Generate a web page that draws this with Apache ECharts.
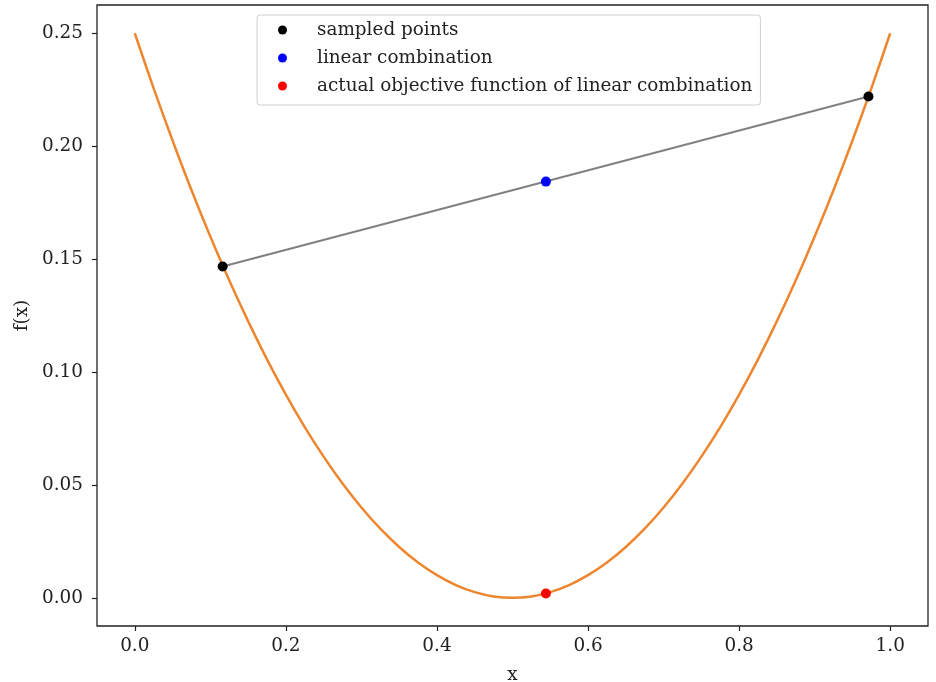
<!DOCTYPE html>
<html>
<head>
<meta charset="utf-8">
<script src="https://cdn.jsdelivr.net/npm/echarts@6/dist/echarts.min.js"></script>
<style>html,body{margin:0;padding:0;background:#fff}#c{width:936px;height:682px}</style>
</head>
<body>
<div id="c"></div>
<script>
const curveX = [0, 0.025, 0.05, 0.075, 0.1, 0.125, 0.15, 0.175, 0.2, 0.225, 0.25, 0.275, 0.3, 0.325, 0.35, 0.375, 0.4, 0.425, 0.45, 0.475, 0.5,
  0.525, 0.55, 0.575, 0.6, 0.625, 0.65, 0.675, 0.7, 0.725, 0.75, 0.775, 0.8, 0.825, 0.85, 0.875, 0.9, 0.925, 0.95, 0.975, 1.0];
const curveY = [0.25, 0.2256, 0.2025, 0.1806, 0.16, 0.1406, 0.1225, 0.1056, 0.09, 0.0756, 0.0625, 0.0506, 0.04, 0.0306, 0.0225, 0.0156, 0.01, 0.0056, 0.0025, 0.0006, 0,
  0.0006, 0.0025, 0.0056, 0.01, 0.0156, 0.0225, 0.0306, 0.04, 0.0506, 0.0625, 0.0756, 0.09, 0.1056, 0.1225, 0.1406, 0.16, 0.1806, 0.2025, 0.2256, 0.25];
const sampledX = [0.1163, 0.9712];
const sampledY = [0.1467, 0.2220];
const linCombX = [0.5442];
const linCombY = [0.1843];
const actualX = [0.5442];
const actualY = [0.0019];
const xTicks = [0, 0.2, 0.4, 0.6, 0.8, 1.0];
const yTicks = [0, 0.05, 0.1, 0.15, 0.2, 0.25];
const seriesNames = ['sampled points', 'linear combination', 'actual objective function of linear combination'];

const zip = (a, b) => a.map((v, i) => [v, b[i]]);
const font = 'DejaVu Serif';
const fs = 18.4;
const chart = echarts.init(document.getElementById('c'), null, {renderer: 'canvas'});
chart.setOption({
  animation: false,
  backgroundColor: '#fff',
  grid: {left: 97, right: 8, top: 5, bottom: 56, outerBoundsMode: 'none', containLabel: false,
    show: true, borderColor: '#222', borderWidth: 1.3, backgroundColor: 'transparent'},
  legend: {
    orient: 'vertical', left: 257, top: 15,
    padding: [5, 8, 9, 21],
    itemWidth: 9, itemHeight: 9, itemGap: 8,
    backgroundColor: '#fff', borderColor: '#d0d0d0', borderWidth: 1, borderRadius: 3,
    data: seriesNames.map(n => ({name: n, icon: 'circle'})),
    formatter: n => '{g|}' + n,
    textStyle: {fontFamily: font, fontSize: fs, color: '#222', lineHeight: 20, rich: {g: {width: 25}}}
  },
  xAxis: {
    type: 'value', min: -0.05, max: 1.05,
    splitLine: {show: false},
    axisLine: {show: false, onZero: false},
    axisTick: {show: true, length: 5, lineStyle: {color: '#222', width: 1.2}, customValues: xTicks},
    axisLabel: {customValues: xTicks, formatter: v => v.toFixed(1), fontFamily: font, fontSize: fs, color: '#222', margin: 11},
    name: 'x', nameLocation: 'middle', nameGap: 40,
    nameTextStyle: {fontFamily: font, fontSize: fs, color: '#222'}
  },
  yAxis: {
    type: 'value', min: -0.0125, max: 0.2625,
    splitLine: {show: false},
    axisLine: {show: false, onZero: false},
    axisTick: {show: true, length: 5, lineStyle: {color: '#222', width: 1.2}, customValues: yTicks},
    axisLabel: {customValues: yTicks, formatter: v => v.toFixed(2), fontFamily: font, fontSize: fs, color: '#222', margin: 14},
    name: 'f(x)', nameLocation: 'middle', nameGap: 64, nameRotate: 90,
    nameTextStyle: {fontFamily: font, fontSize: fs, color: '#222'}
  },
  series: [
    {type: 'line', name: 'curve', data: zip(curveX, curveY), showSymbol: false, symbol: 'none',
      smooth: 0.3,
      lineStyle: {color: '#ee8630', width: 2.5}, z: 2},
    {type: 'line', name: 'chord', data: zip(sampledX, sampledY), showSymbol: false, symbol: 'none',
      lineStyle: {color: '#808080', width: 2}, z: 3},
    {type: 'scatter', name: seriesNames[0], data: zip(sampledX, sampledY), symbolSize: 10, itemStyle: {color: '#000', opacity: 1}, z: 4},
    {type: 'scatter', name: seriesNames[1], data: zip(linCombX, linCombY), symbolSize: 10, itemStyle: {color: '#0000ff', opacity: 1}, z: 4},
    {type: 'scatter', name: seriesNames[2], data: zip(actualX, actualY), symbolSize: 10, itemStyle: {color: '#ff0000', opacity: 1}, z: 4}
  ]
});
</script>
</body>
</html>
